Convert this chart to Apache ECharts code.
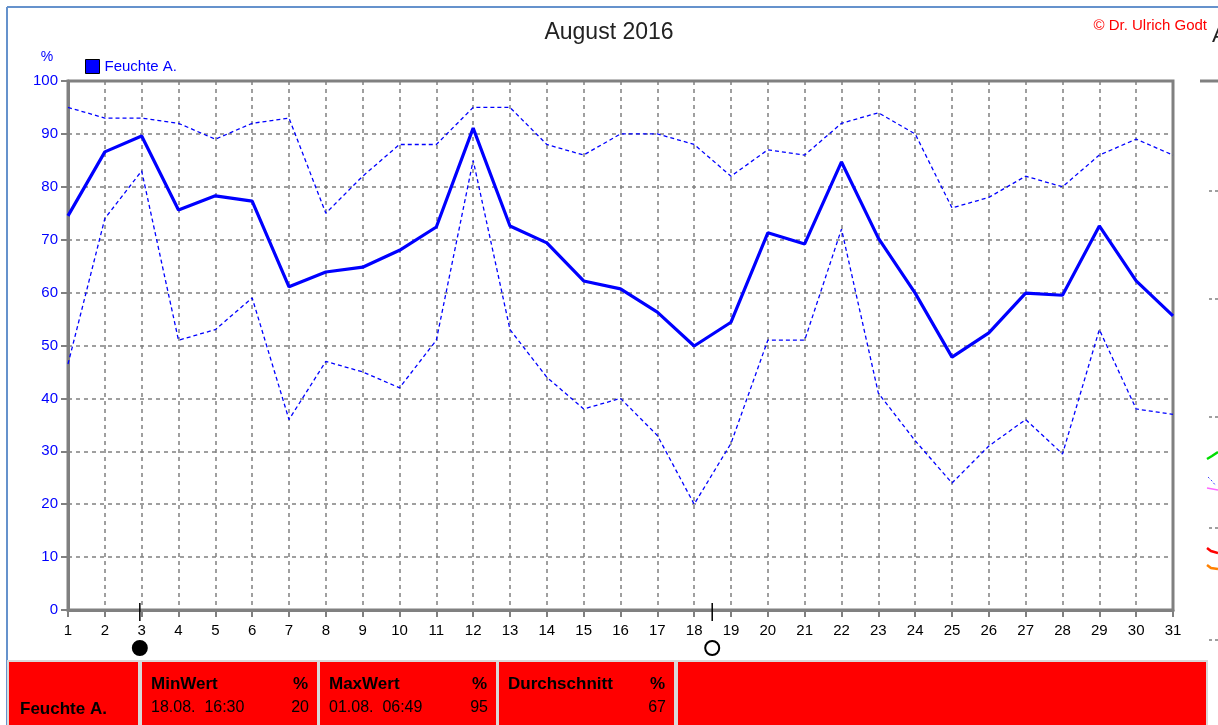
<!DOCTYPE html>
<html>
<head>
<meta charset="utf-8">
<script src="https://cdn.jsdelivr.net/npm/echarts@6/dist/echarts.min.js"></script>
<style>
html,body{margin:0;padding:0;background:#fff;}
#chart{width:1218px;height:725px;}
</style>
</head>
<body>
<div id="chart"></div>
<script>
// ---- data ----
const days = [1,2,3,4,5,6,7,8,9,10,11,12,13,14,15,16,17,18,19,20,21,22,23,24,25,26,27,28,29,30,31];
const meanValues = [74.5,86.6,89.6,75.6,78.3,77.3,61.1,63.9,64.8,68,72.4,91.1,72.6,69.4,62.2,60.7,56.3,49.9,54.4,71.3,69.2,84.7,70.3,59.9,47.8,52.4,59.9,59.5,72.6,62.2,55.6];
const maxValues  = [95,93,93,92,89,92,93,75,82,88,88,95,95,88,86,90,90,88,82,87,86,92,94,90,76,78,82,80,86,89,86];
const minValues  = [46.5,74,83,51,53,59,36,47,45,42,51,85,53,44,38,40,33,20,31.5,51,51,72,41,32,24,31,36,29.5,53,38,37];
const yTicks = [0,10,20,30,40,50,60,70,80,90,100];
const moonDays = [2.95, 18.49];
const moonFilled = [1, 0];
const seriesName = 'Feuchte A.';
const titleText = 'August 2016';
const copyrightText = '© Dr. Ulrich Godt';
const unitText = '%';
const tableRowLabel = 'Feuchte A.';
const tableHeaders = ['MinWert','MaxWert','Durchschnitt'];
const tableDates = ['18.08.  16:30','01.08.  06:49',''];
const tableValues = ['20','95','67'];

// ---- chart ----
const chart = echarts.init(document.getElementById('chart'), null, {renderer:'canvas'});
const gridColor = '#808080';
const FONT = 'Liberation Sans, Arial, sans-serif';

function pairs(arr){ return days.map((d,i)=>[d, arr[i]]); }

// table graphics
const cellX = [[9,138],[142,317],[320,496],[499,674],[678,1206]];
const tableTop = 662;
const graphics = [];
// outer blue frame
graphics.push({type:'line', shape:{x1:7,y1:7,x2:1218,y2:7}, style:{stroke:'#6592cc', lineWidth:2}});
graphics.push({type:'line', shape:{x1:7,y1:7,x2:7,y2:725}, style:{stroke:'#6592cc', lineWidth:2}});
// table background
graphics.push({type:'rect', shape:{x:7,y:tableTop-2,width:1201,height:70}, style:{fill:'#d9d9d9'}});
cellX.forEach(c=>{
  graphics.push({type:'rect', shape:{x:c[0],y:tableTop,width:c[1]-c[0],height:70}, style:{fill:'#ff0000'}});
});
graphics.push({type:'text', x:20, y:709, style:{text:tableRowLabel, font:'bold 17px '+FONT, fill:'#000', verticalAlign:'middle'}});
tableHeaders.forEach((h,i)=>{
  const c = cellX[i+1];
  graphics.push({type:'text', x:c[0]+9, y:684, style:{text:h, font:'bold 17px '+FONT, fill:'#000', verticalAlign:'middle'}});
  graphics.push({type:'text', x:c[1]-9, y:684, style:{text:unitText, font:'bold 17px '+FONT, fill:'#000', verticalAlign:'middle', align:'right'}});
  if (tableDates[i]) graphics.push({type:'text', x:c[0]+9, y:708, style:{text:tableDates[i], font:'16px '+FONT, fill:'#000', verticalAlign:'middle'}});
  graphics.push({type:'text', x:c[1]-8, y:708, style:{text:tableValues[i], font:'16px '+FONT, fill:'#000', verticalAlign:'middle', align:'right'}});
});
// copyright
graphics.push({type:'text', x:1207, y:26, style:{text:copyrightText, font:'15px '+FONT, fill:'#ff0000', verticalAlign:'middle', align:'right'}});
// unit label
graphics.push({type:'text', x:47, y:57, style:{text:unitText, font:'14px '+FONT, fill:'#0000ff', verticalAlign:'middle', align:'center'}});
// cut-off neighbouring panel on the right
graphics.push({type:'text', x:1212, y:36, style:{text:'A', font:'22px '+FONT, fill:'#222', verticalAlign:'middle'}});
graphics.push({type:'line', shape:{x1:1200,y1:81,x2:1218,y2:81}, style:{stroke:gridColor, lineWidth:3}});
[191,299,417,528,640].forEach(y=>{
  graphics.push({type:'line', shape:{x1:1209,y1:y,x2:1218,y2:y}, style:{stroke:gridColor, lineWidth:1.5, lineDash:[3,3]}});
});
graphics.push({type:'polyline', shape:{points:[[1207,459],[1212,456],[1218,452]]}, style:{stroke:'#00dd00', lineWidth:2.5}});
graphics.push({type:'polyline', shape:{points:[[1207,488],[1218,490]]}, style:{stroke:'#ff66ff', lineWidth:1.5}});
graphics.push({type:'polyline', shape:{points:[[1208,477],[1212,481],[1216,486]]}, style:{stroke:'#4040ff', lineWidth:1, lineDash:[2,2]}});
graphics.push({type:'polyline', shape:{points:[[1207,548],[1211,551],[1218,553]]}, style:{stroke:'#ff0000', lineWidth:2.5}});
graphics.push({type:'polyline', shape:{points:[[1207,565],[1211,568],[1218,569]]}, style:{stroke:'#ff8000', lineWidth:2.5}});

const option = {
  animation: false,
  backgroundColor: '#fff',
  title: {
    text: titleText, left: 'center', top: 16,
    textStyle: {fontFamily: FONT, fontSize: 23, fontWeight: 'normal', color: '#222'}
  },
  legend: {
    data: [seriesName], left: 80, top: 54,
    icon: 'rect', itemWidth: 14, itemHeight: 14, itemGap: 6,
    itemStyle: {color:'#0000ff', borderColor:'#000', borderWidth:1},
    textStyle: {fontFamily: FONT, fontSize: 15, color: '#0000ff'}
  },
  grid: {
    left: 68, right: 45, top: 81, bottom: 115,
    show: true, borderColor: gridColor, borderWidth: 3, backgroundColor: 'transparent'
  },
  xAxis: {
    type: 'value', min: 1, max: 31, interval: 1,
    axisLine: {show: true, onZero: false, lineStyle: {color: gridColor, width: 3}},
    axisTick: {show: true, length: 7, lineStyle: {color: gridColor, width: 2}},
    axisLabel: {color: '#000', fontFamily: FONT, fontSize: 15, margin: 13, showMinLabel: true, showMaxLabel: true},
    splitLine: {show: true, lineStyle: {color: gridColor, width: 1.5, type: [4,4]}}
  },
  yAxis: {
    type: 'value', min: yTicks[0], max: yTicks[yTicks.length-1], interval: 10,
    axisLine: {show: true, lineStyle: {color: gridColor, width: 3}},
    axisTick: {show: true, length: 7, lineStyle: {color: gridColor, width: 2}},
    axisLabel: {color: '#0000ff', fontFamily: FONT, fontSize: 15, margin: 10},
    splitLine: {show: true, lineStyle: {color: gridColor, width: 1.5, type: [4,4]}}
  },
  graphic: graphics,
  series: [
    {
      name: seriesName + ' max', type: 'line', data: pairs(maxValues),
      symbol: 'none', lineStyle: {color: '#0000ff', width: 1.3, type: [4,3]}, z: 3
    },
    {
      name: seriesName + ' min', type: 'line', data: pairs(minValues),
      symbol: 'none', lineStyle: {color: '#0000ff', width: 1.3, type: [4,3]}, z: 3
    },
    {
      name: seriesName, type: 'line', data: pairs(meanValues),
      symbol: 'none', itemStyle: {color: '#0000ff'},
      lineStyle: {color: '#0000ff', width: 3.2}, z: 4
    },
    {
      name: 'moon', type: 'custom', clip: false, silent: true, z: 5,
      data: moonDays.map((d,i)=>[d, 0, moonFilled[i]]),
      renderItem: function(params, api){
        const p = api.coord([api.value(0), 0]);
        const filled = api.value(2) === 1;
        return {
          type: 'group',
          children: [
            {type:'line', shape:{x1:p[0], y1:p[1]-7, x2:p[0], y2:p[1]+11}, style:{stroke:'#000', lineWidth:1.5}},
            {type:'circle', shape:{cx:p[0], cy:p[1]+38, r:7}, style:{fill: filled ? '#000' : '#fff', stroke:'#000', lineWidth:2}}
          ]
        };
      }
    }
  ]
};
chart.setOption(option);
</script>
</body>
</html>
